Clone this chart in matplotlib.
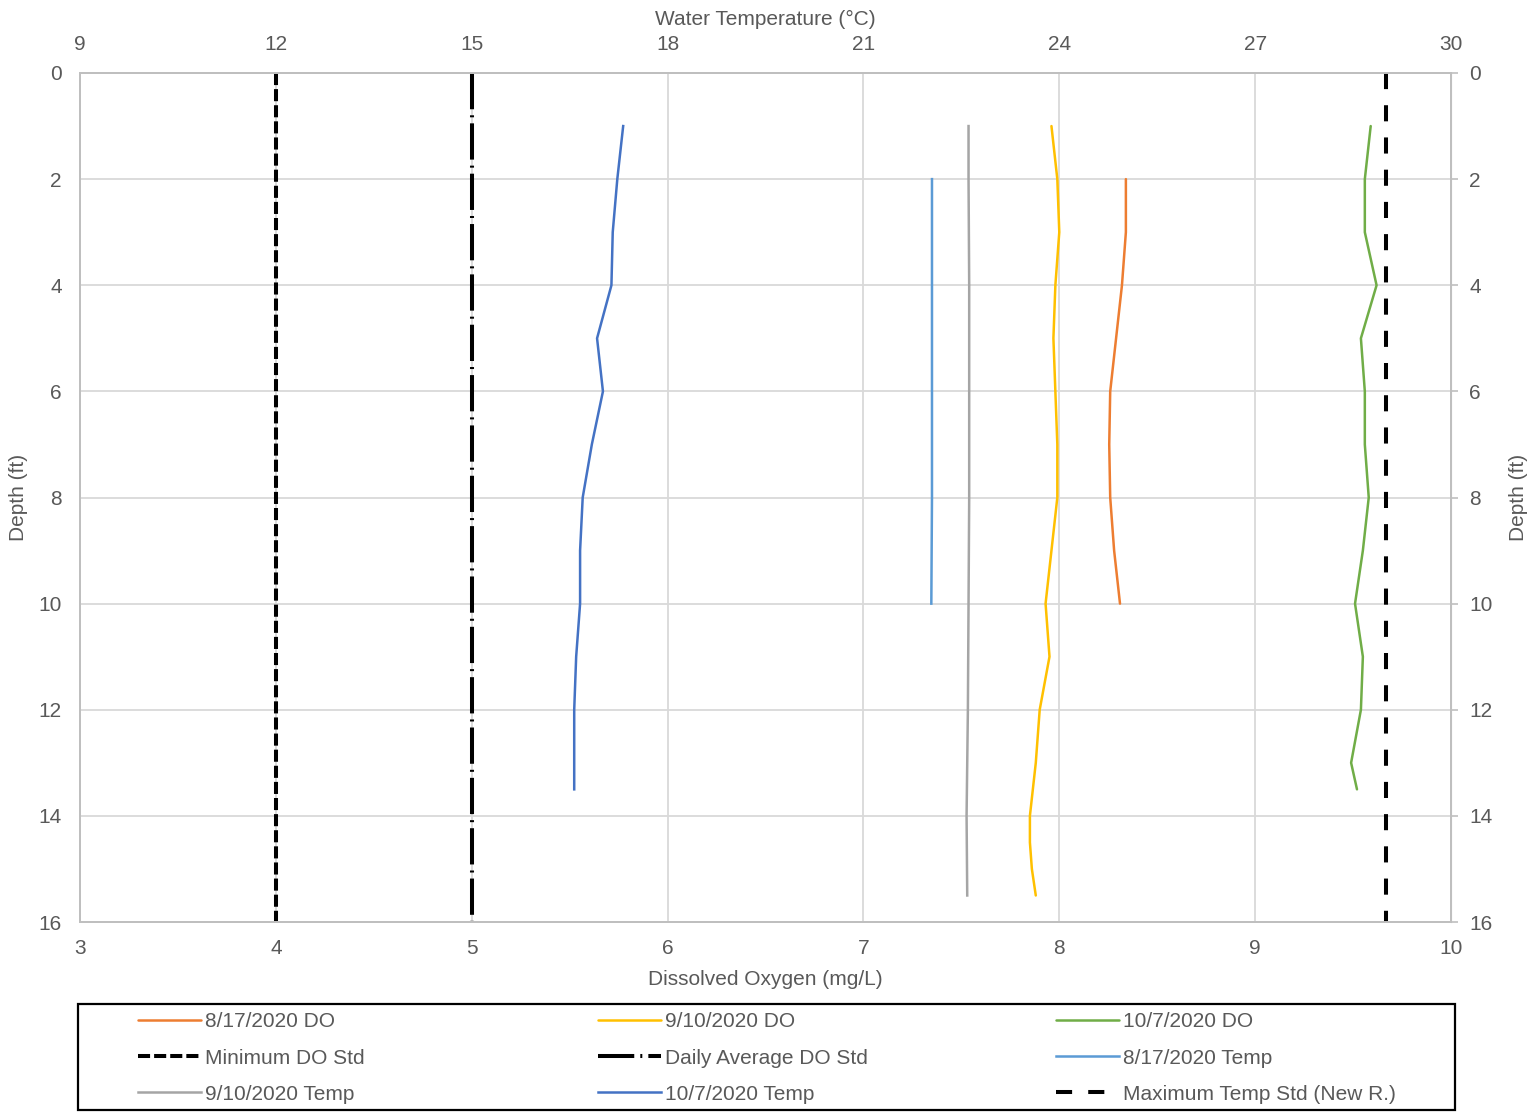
import numpy as np
import matplotlib.pyplot as plt
from matplotlib.patches import Rectangle

plt.rcParams['font.family'] = ['Liberation Sans', 'DejaVu Sans']

# dissolved oxygen profiles (mg/L) vs depth (ft)
depth_do_0817 = [2, 3, 4, 5, 6, 7, 8, 9, 10]
do_0817 = [8.34, 8.34, 8.32, 8.29, 8.26, 8.255, 8.26, 8.28, 8.31]

depth_do_0910 = [1, 2, 3, 4, 5, 6, 7, 8, 9, 10, 11, 12, 13, 14, 14.5, 15, 15.5]
do_0910 = [7.96, 7.99, 8.00, 7.98, 7.97, 7.98, 7.99, 7.99, 7.96, 7.93, 7.95, 7.90, 7.88, 7.85, 7.85, 7.86, 7.88]

depth_do_1007 = [1, 2, 3, 4, 5, 6, 7, 8, 9, 10, 11, 12, 13, 13.5]
do_1007 = [9.59, 9.56, 9.56, 9.62, 9.54, 9.56, 9.56, 9.58, 9.55, 9.51, 9.55, 9.54, 9.49, 9.52]

# water temperature profiles (°C) vs depth (ft)
depth_t_0817 = [2, 4, 6, 8, 10]
t_0817 = [22.05, 22.05, 22.05, 22.05, 22.04]

depth_t_0910 = [1, 2, 4, 6, 8, 10, 12, 14, 15.5]
t_0910 = [22.61, 22.61, 22.62, 22.62, 22.62, 22.61, 22.60, 22.58, 22.59]

depth_t_1007 = [1, 2, 3, 4, 5, 6, 7, 8, 9, 10, 11, 12, 13.5]
t_1007 = [17.32, 17.23, 17.16, 17.14, 16.92, 17.01, 16.84, 16.70, 16.66, 16.66, 16.60, 16.57, 16.57]

# standards
std_depth = [0, 16]
min_do = [4, 4]
avg_do = [5, 5]
max_temp = [29, 29]

grey = '#595959'

fig = plt.figure(figsize=(15.3, 11.13), dpi=100)
ax = fig.add_axes([80/1530, 1-922/1113, 1371/1530, 849/1113])
ax.set_xlim(3, 10)
ax.set_ylim(16, 0)
ax2 = ax.twiny()
ax2.set_xlim(9, 30)

l_do0817, = ax.plot(do_0817, depth_do_0817, color='#ED7D31', lw=1.8, solid_capstyle='round')
l_do0910, = ax.plot(do_0910, depth_do_0910, color='#FFC000', lw=1.8, solid_capstyle='round')
l_do1007, = ax.plot(do_1007, depth_do_1007, color='#70AD47', lw=1.8, solid_capstyle='round')
l_min, = ax.plot(min_do, std_depth, color='black', lw=2.9, dashes=(3, 1))
l_avg, = ax.plot(avg_do, std_depth, color='black', lw=2.9, dashes=(9, 1.5, 0.5, 1.5))
l_t0817, = ax2.plot(t_0817, depth_t_0817, color='#5B9BD5', lw=1.8)
l_t0910, = ax2.plot(t_0910, depth_t_0910, color='#A5A5A5', lw=1.8)
l_t1007, = ax2.plot(t_1007, depth_t_1007, color='#4472C4', lw=1.8)
l_max, = ax2.plot(max_temp, std_depth, color='black', lw=2.9, dashes=(4, 4))

ax.set_xticks(range(3, 11))
ax.set_yticks(range(0, 17, 2))
ax2.set_xticks(range(9, 31, 3))
ax.grid(True, color='#D9D9D9', lw=1.3)
ax.set_axisbelow(True)

for a in (ax, ax2):
    for s in a.spines.values():
        s.set_color('#BFBFBF')
        s.set_linewidth(1.4)
ax.tick_params(axis='x', length=0, pad=12, labelsize=15, labelcolor=grey)
ax.tick_params(axis='y', length=0, pad=13, labelsize=15, labelcolor=grey)
ax2.tick_params(axis='x', length=0, pad=14, labelsize=15, labelcolor=grey)

sec = ax.secondary_yaxis('right')
sec.set_yticks(range(0, 17, 2))
sec.tick_params(length=5, color='#BFBFBF', width=1.2, pad=8, labelsize=15, labelcolor=grey)
sec.spines['right'].set_color('#BFBFBF')

ax.set_xlabel('Dissolved Oxygen (mg/L)', fontsize=15, color=grey)
ax.xaxis.set_label_coords(0.5, -0.056)
ax2.set_xlabel('Water Temperature (°C)', fontsize=15, color=grey)
ax2.xaxis.set_label_coords(0.5, 1.056)
ax.set_ylabel('Depth (ft)', fontsize=15, color=grey)
ax.yaxis.set_label_coords(-0.038, 0.5)
sec.set_ylabel('Depth (ft)', fontsize=15, color=grey, labelpad=12)

# legend: three columns, one box
cols = [
    ([l_do0817, l_min, l_t0910], ['8/17/2020 DO', 'Minimum DO Std', '9/10/2020 Temp'], 138),
    ([l_do0910, l_avg, l_t1007], ['9/10/2020 DO', 'Daily Average DO Std', '10/7/2020 Temp'], 598),
    ([l_do1007, l_t0817, l_max], ['10/7/2020 DO', '8/17/2020 Temp', 'Maximum Temp Std (New R.)'], 1056),
]
for hs, labs, xpx in cols:
    leg = fig.legend(hs, labs, loc='center left', bbox_to_anchor=(xpx/1530, 1-1058/1113),
                     frameon=False, fontsize=15, handlelength=3.0, handletextpad=0.2,
                     labelspacing=0.82, borderpad=0, borderaxespad=0)
    for t in leg.get_texts():
        t.set_color(grey)

fig.add_artist(Rectangle((78/1530, 1-1110/1113), 1377/1530, 106/1113,
                         transform=fig.transFigure, fill=False, ec='black', lw=1.6))

fig.savefig('out.png', dpi=100)
